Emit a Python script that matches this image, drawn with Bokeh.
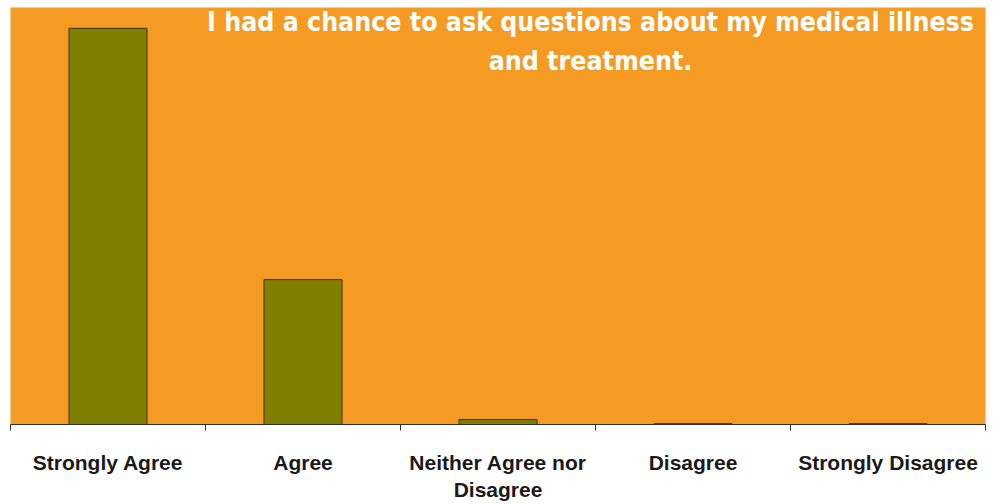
from bokeh.plotting import figure
from bokeh.models import Range1d, FixedTicker, Label
from bokeh.embed import file_html
from bokeh.resources import INLINE

# Survey responses
categories = ["Strongly Agree", "Agree", "Neither Agree nor\nDisagree", "Disagree", "Strongly Disagree"]
responses = [72.2, 26.4, 0.9, 0.15, 0.15]
title_lines = ["I had a chance to ask questions about my medical illness", "and treatment."]

ORANGE = "#F59A23"
OLIVE = "#808000"

n = len(categories)
centers = [i + 0.5 for i in range(n)]

p = figure(width=995, height=504, output_backend="svg", toolbar_location=None,
           x_range=Range1d(0, n), y_range=Range1d(0, 76),
           min_border_left=10, min_border_right=10, min_border_top=7, min_border_bottom=79)
p.background_fill_color = ORANGE
p.border_fill_color = "white"
p.outline_line_color = None
p.grid.visible = False
p.yaxis.visible = False

p.vbar(x=centers, top=responses, width=0.4, fill_color=OLIVE,
       line_color="#3d3000", line_width=1)

# ticks at category boundaries, labels centred in each slot
ax = p.xaxis[0]
ax.ticker = FixedTicker(ticks=centers, minor_ticks=list(range(n + 1)))
ax.major_label_overrides = {c: lab for c, lab in zip(centers, categories)}
ax.major_tick_out = 0
ax.major_tick_in = 0
ax.minor_tick_out = 6
ax.minor_tick_in = 0
ax.minor_tick_line_color = "#333333"
ax.axis_line_color = "#333333"
ax.axis_line_width = 1
ax.major_label_text_font = "Liberation Sans"
ax.major_label_text_font_style = "bold"
ax.major_label_text_font_size = "21px"
ax.major_label_text_color = "#1a1a1a"
ax.major_label_standoff = 20

# two-line title inside the plot area (screen y measured from frame bottom)
for line, y in zip(title_lines, [403, 364]):
    p.add_layout(Label(x=580, y=y, x_units="screen", y_units="screen",
                       text=line, text_align="center", text_baseline="middle",
                       text_color="white", text_font="DejaVu Sans Condensed",
                       text_font_style="bold", text_font_size="26.5px"))

open("out.html", "w").write(file_html(p, INLINE))
